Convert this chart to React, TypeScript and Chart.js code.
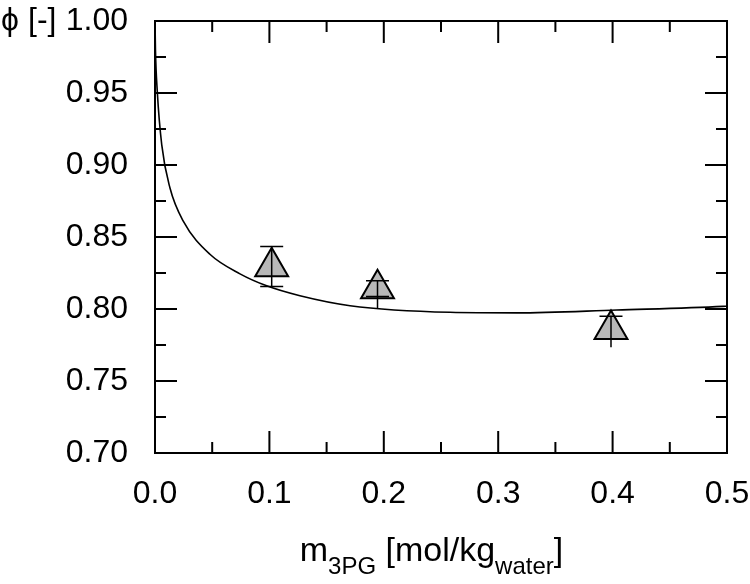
import React, { useEffect, useRef } from 'react';
import { Chart, registerables } from 'chart.js';

Chart.register(...registerables);

// fitted model curve
const curveX = [0, 0.0004, 0.002, 0.0059, 0.0131, 0.0247, 0.048, 0.0743, 0.0976, 0.1267, 0.1705, 0.2579, 0.3162, 0.4036, 0.4965, 0.5];
const curveY = [1.0, 0.98, 0.951, 0.914, 0.884, 0.861, 0.838, 0.8244, 0.8161, 0.8092, 0.8023, 0.7977, 0.7973, 0.7993, 0.8018, 0.802];

// measured points with error bars
const pointX = [0.102, 0.1945, 0.3986];
const pointY = [0.8293, 0.8141, 0.7857];
const errTop = [0.8434, 0.8196, 0.7949];
const errBottom = [0.8157, 0.8086, 0.7793];
const stemBottom = [0.8157, 0.8, 0.7735];

const xTicks = [0, 0.1, 0.2, 0.3, 0.4, 0.5];
const xMinor = [0.05, 0.15, 0.25, 0.35, 0.45];
const yTicks = [0.7, 0.75, 0.8, 0.85, 0.9, 0.95, 1.0];
const yMinor = [0.725, 0.775, 0.825, 0.875, 0.925, 0.975];

const FONT = '"Liberation Sans", Arial, Helvetica, sans-serif';

const framePlugin = {
  id: 'frame',
  afterDatasetsDraw(chart: any) {
    const ctx = chart.ctx;
    const xs = chart.scales.x;
    const ys = chart.scales.y;
    ctx.save();
    ctx.strokeStyle = '#000';
    ctx.lineWidth = 1.5;
    for (let i = 0; i < pointX.length; i++) {
      const px = xs.getPixelForValue(pointX[i]);
      const yt = ys.getPixelForValue(errTop[i]);
      const yb = ys.getPixelForValue(errBottom[i]);
      const ys2 = ys.getPixelForValue(stemBottom[i]);
      ctx.beginPath();
      ctx.moveTo(px, yt);
      ctx.lineTo(px, Math.max(yb, ys2));
      ctx.moveTo(px - 11.5, yt);
      ctx.lineTo(px + 11.5, yt);
      ctx.moveTo(px - 11.5, yb);
      ctx.lineTo(px + 11.5, yb);
      ctx.stroke();
    }
    ctx.restore();
  },
  afterDraw(chart: any) {
    const ctx = chart.ctx;
    const a = chart.chartArea;
    const xs = chart.scales.x;
    const ys = chart.scales.y;
    ctx.save();
    ctx.strokeStyle = '#000';
    ctx.lineWidth = 2;
    ctx.beginPath();
    ctx.rect(a.left, a.top, a.right - a.left, a.bottom - a.top);
    ctx.stroke();
    ctx.beginPath();
    const major = 22, minor = 11;
    xTicks.forEach((v) => {
      const p = xs.getPixelForValue(v);
      ctx.moveTo(p, a.bottom); ctx.lineTo(p, a.bottom - major);
      ctx.moveTo(p, a.top); ctx.lineTo(p, a.top + major);
    });
    xMinor.forEach((v) => {
      const p = xs.getPixelForValue(v);
      ctx.moveTo(p, a.bottom); ctx.lineTo(p, a.bottom - minor);
      ctx.moveTo(p, a.top); ctx.lineTo(p, a.top + minor);
    });
    yTicks.forEach((v) => {
      const p = ys.getPixelForValue(v);
      ctx.moveTo(a.left, p); ctx.lineTo(a.left + major, p);
      ctx.moveTo(a.right, p); ctx.lineTo(a.right - major, p);
    });
    yMinor.forEach((v) => {
      const p = ys.getPixelForValue(v);
      ctx.moveTo(a.left, p); ctx.lineTo(a.left + minor, p);
      ctx.moveTo(a.right, p); ctx.lineTo(a.right - minor, p);
    });
    ctx.stroke();

    // y axis title
    ctx.fillStyle = '#000';
    ctx.textBaseline = 'middle';
    ctx.textAlign = 'left';
    ctx.font = `32px ${FONT}`;
    ctx.fillText('\u03D5', 1, a.top);
    ctx.fillText('[-]', 28, a.top);

    // x axis title with subscripts
    const main = 34, sub = 24;
    const parts: [string, boolean][] = [['m', false], ['3PG', true], [' [mol/kg', false], ['water', true], [']', false]];
    let total = 0;
    parts.forEach(([t, s]) => {
      ctx.font = `${s ? sub : main}px ${FONT}`;
      total += ctx.measureText(t).width;
    });
    let x = 431.5 - total / 2;
    const base = 561;
    ctx.textBaseline = 'alphabetic';
    parts.forEach(([t, s]) => {
      ctx.font = `${s ? sub : main}px ${FONT}`;
      ctx.fillText(t, x, s ? base + 13 : base);
      x += ctx.measureText(t).width;
    });
    ctx.restore();
  },
};

const noPad = (s: any) => {
  s.paddingTop = 0;
  s.paddingBottom = 0;
  s.paddingLeft = 0;
  s.paddingRight = 0;
};

export default function App() {
  const ref = useRef<HTMLCanvasElement>(null);
  useEffect(() => {
    document.body.style.margin = '0';
    const canvas = ref.current!;
    const chart = new Chart(canvas, {
      type: 'scatter',
      data: {
        datasets: [
          {
            label: 'model',
            data: curveX.map((x, i) => ({ x, y: curveY[i] })),
            showLine: true,
            borderColor: '#000',
            borderWidth: 1.6,
            pointRadius: 0,
            cubicInterpolationMode: 'monotone',
            fill: false,
          } as any,
          {
            label: 'data',
            data: pointX.map((x, i) => ({ x, y: pointY[i] })),
            pointStyle: 'triangle',
            pointRadius: 19,
            pointBackgroundColor: '#b8b8b8',
            pointBorderColor: '#000',
            pointBorderWidth: 2,
            showLine: false,
          } as any,
        ],
      },
      options: {
        responsive: false,
        animation: false,
        devicePixelRatio: 1,
        events: [],
        layout: { padding: { top: 19, right: 23, left: 0, bottom: 0 } },
        plugins: { legend: { display: false }, tooltip: { enabled: false } },
        scales: {
          x: {
            type: 'linear',
            min: 0,
            max: 0.5,
            grid: { display: false, drawTicks: false },
            border: { display: false },
            afterBuildTicks: (s: any) => { s.ticks = xTicks.map((v) => ({ value: v })); },
            afterFit: (s: any) => { s.height = 131; noPad(s); },
            ticks: {
              padding: 22,
              color: '#000',
              font: { family: FONT, size: 32 },
              maxRotation: 0,
              callback: (v: any) => Number(v).toFixed(1),
            },
          },
          y: {
            type: 'linear',
            min: 0.7,
            max: 1.0,
            grid: { display: false, drawTicks: false },
            border: { display: false },
            afterBuildTicks: (s: any) => { s.ticks = yTicks.map((v) => ({ value: v })); },
            afterFit: (s: any) => { s.width = 155; noPad(s); },
            ticks: {
              padding: 27,
              color: '#000',
              font: { family: FONT, size: 32 },
              callback: (v: any) => Number(v).toFixed(2),
            },
          },
        },
      },
      plugins: [framePlugin],
    });
    return () => chart.destroy();
  }, []);
  return (
    <div style={{ position: 'absolute', left: 0, top: 0, width: 750, height: 584 }}>
      <canvas ref={ref} width={750} height={584} style={{ display: 'block', width: 750, height: 584 }} />
    </div>
  );
}
